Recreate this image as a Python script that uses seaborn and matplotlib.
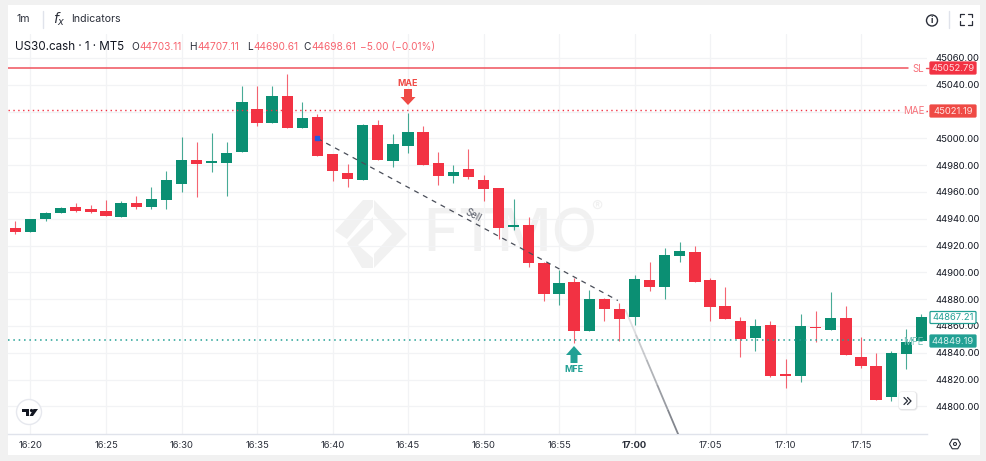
import matplotlib
matplotlib.use("Agg")
import numpy as np
import pandas as pd
import matplotlib.pyplot as plt
from matplotlib.patches import Polygon, FancyBboxPatch, Circle, Rectangle
import seaborn as sns

# minutes after 16:00, first candle is 16:19
first_minute = 19
opens = [44933, 44930, 44940, 44944, 44949, 44947, 44946, 44941, 44952, 44949,
         44954, 44966, 44984, 44982, 44982, 44990, 45022, 45011.5, 45032, 45007.5,
         45016, 44988, 44974, 44969, 45010, 44983, 44994.5, 45005, 44982, 44972,
         44977, 44969, 44963, 44934, 44935, 44907, 44884, 44893, 44856.5, 44880,
         44873, 44866.5, 44894, 44889, 44912, 44915, 44894, 44875, 44864, 44851,
         44861, 44823.5, 44823, 44859.5, 44857, 44866, 44837, 44830, 44807, 44839,
         44849]
highs = [44938, 44940, 44945, 44949, 44952, 44950, 44954, 44953, 44957, 44964,
         44976, 45001, 44997, 45004, 44997, 45039, 45039, 45039, 45048, 45027,
         45018, 44988, 44981, 45011, 45014, 45003, 45019, 45009, 44990, 44980,
         44992, 44973, 44963, 44955, 44941, 44907.5, 44902, 44896, 44887, 44881,
         44877, 44898, 44908, 44918, 44923, 44920, 44896, 44889, 44866.5, 44865,
         44864, 44835, 44869, 44871, 44885, 44875, 44852, 44840, 44841, 44858,
         44869]
lows = [44929, 44930, 44938, 44944, 44945, 44944, 44942, 44941, 44947, 44947.5,
        44947, 44960, 44956, 44975, 44957, 44990, 45009, 45011.5, 45007.5, 45007.5,
        44987, 44968, 44964, 44969, 44984, 44979, 44989, 44980, 44965, 44967,
        44970, 44953, 44925, 44932, 44904, 44879, 44876, 44847, 44856.5, 44864,
        44849, 44861, 44886, 44880, 44908, 44893, 44863.5, 44865, 44837, 44841,
        44822, 44814, 44818, 44848, 44856.8, 44838, 44829, 44805, 44804, 44828,
        44849]
closes = [44930, 44940, 44944, 44948, 44946, 44945, 44942, 44952, 44949, 44955,
          44969, 44984, 44981, 44983, 44989, 45027, 45011.5, 45032, 45007.5, 45015,
          44987, 44976, 44969.5, 45010, 44984, 44996, 45005, 44980, 44972, 44975,
          44971, 44962, 44933, 44935, 44907, 44884, 44892, 44856, 44880, 44873,
          44865.5, 44895, 44889, 44913, 44916, 44893, 44874, 44865, 44850, 44860,
          44823, 44823, 44860, 44858.5, 44866, 44838, 44830, 44805, 44840, 44848,
          44867]

price_ticks = list(range(44800, 45061, 20))
time_ticks = [20, 25, 30, 35, 40, 45, 50, 55, 60, 65, 70, 75]
time_labels = ["16:20", "16:25", "16:30", "16:35", "16:40", "16:45", "16:50",
               "16:55", "17:00", "17:05", "17:10", "17:15"]

sl_price = 45052.79
mae_price = 45021.19
mfe_price = 44849.19
last_price = 44867.21
trade_minutes = [39, 58.9]
trade_prices = [45000, 44879]
exit_minutes = [59.4, 62.9]
exit_prices = [44872, 44779]

GREEN = "#0B8F73"
RED = "#F23243"
TEAL = "#22A094"
MAE_RED = "#EF4A45"
INK = "#2A2E39"

df = pd.DataFrame({"minute": first_minute + np.arange(len(opens)),
                   "open": opens, "high": highs, "low": lows, "close": closes})
df["bottom"] = df[["open", "close"]].min(axis=1)
df["body"] = (df["close"] - df["open"]).abs().clip(lower=1)
df["up"] = df["close"] > df["open"]

sns.set_theme(style="white")
plt.rcParams["font.family"] = ["Inter", "DejaVu Sans"]

W, H = 987, 461
fig = plt.figure(figsize=(W / 100, H / 100), dpi=100, facecolor="#F1F1F1")


def px_axes(z):
    a = fig.add_axes([0, 0, 1, 1], zorder=z)
    a.set_xlim(0, W)
    a.set_ylim(H, 0)
    a.axis("off")
    a.patch.set_alpha(0)
    return a


# white panel + watermark under the chart
bg = px_axes(0)
bg.add_patch(Rectangle((8, 5), 972, 450, fc="white", ec="none"))
wm = "#F1F1F1"
bg.add_patch(Polygon([[335, 231], [363, 200], [373, 200], [373, 207], [347, 239]], fc=wm, ec="none"))
bg.add_patch(Polygon([[347, 243], [373, 217], [373, 230], [358, 245], [373, 258], [373, 268], [362, 268]], fc=wm, ec="none"))
bg.add_patch(Polygon([[374, 200], [407, 234], [374, 268], [374, 254], [392, 234], [374, 214]], fc=wm, ec="none"))
bg.text(423, 236, "FTMO", fontsize=43, fontweight="medium", color=wm, va="center", ha="left")
bg.text(597, 207, "®", fontsize=12, color=wm, va="center", ha="center")

# main chart, pixel box 8..927 x 34..434
ax = fig.add_axes([8 / W, 1 - 434 / H, 919 / W, 400 / H], zorder=1)
ax.patch.set_alpha(0)

for up, color in [(True, GREEN), (False, RED)]:
    part = df[df["up"] == up]
    ax.vlines(part["minute"], part["low"], part["high"], color=color, lw=0.8, alpha=0.75, zorder=3)
    sns.barplot(data=part, x="minute", y="body", bottom=part["bottom"].values, native_scale=True,
                width=0.75, color=color, saturation=1, errorbar=None, ax=ax, zorder=4,
                edgecolor=color, linewidth=0)

ax.set_xlim(18.51, 79.37)
ax.set_ylim(44779.4, 45077.9)
ax.set_xlabel("")
ax.set_ylabel("")
ax.set_xticks(time_ticks)
ax.set_xticklabels(time_labels)
ax.set_yticks(price_ticks)
# 45020 sits right under the MAE price box
ax.set_yticklabels(["" if p == 45020 else f"{p:.2f}" for p in price_ticks])
ax.yaxis.tick_right()
ax.tick_params(axis="y", length=0, pad=5.8, labelsize=6.8, labelcolor="#131722")
ax.tick_params(axis="x", length=0, pad=5, labelsize=6.8, labelcolor=INK)
ax.get_xticklabels()[8].set_fontweight("bold")
ax.grid(True, color="#F2F3F5", lw=0.9)
ax.set_axisbelow(True)
for s in ["top", "left", "right"]:
    ax.spines[s].set_visible(False)
ax.spines["bottom"].set_color("#E0E3EB")
ax.spines["bottom"].set_linewidth(1)

# levels
ax.axhline(sl_price, xmax=0.979, color="#F0525C", lw=1.1, zorder=5)
ax.axhline(mae_price, xmax=0.97, color=RED, lw=1, ls=(0, (1, 2.5)), zorder=5)
ax.axhline(mfe_price, color=TEAL, lw=1.1, ls=(0, (1, 2.5)), zorder=5)

# trade path
sns.lineplot(x=trade_minutes, y=trade_prices, color="#4A4E59", lw=0.9, ls=(0, (4, 4)), ax=ax, zorder=6)
ax.plot(trade_minutes[0], trade_prices[0], "s", ms=3, color="#1F5BE0", zorder=7)
xs = np.linspace(exit_minutes[0], exit_minutes[1], 6)
ys = np.linspace(exit_prices[0], exit_prices[1], 6)
for i in range(5):
    ax.plot(xs[i:i + 2], ys[i:i + 2], color="#6B6F78", lw=1.3, alpha=0.2 + 0.16 * i, zorder=6,
            solid_capstyle="butt")
ax.text(49.3, 44943, "Sell", fontsize=7, color="#555A66", rotation=-28, ha="center", va="center", zorder=7)

# chrome and annotations on top, pixel coordinates
ui = px_axes(5)
# MAE / MFE markers
ui.add_patch(Polygon([[404, 89], [412, 89], [412, 97], [415.5, 97], [408, 105], [400.5, 97], [404, 97]],
                     fc=MAE_RED, ec="none"))
ui.text(408, 83.5, "MAE", fontsize=6.4, fontweight="bold", color=MAE_RED, ha="center", va="center")
ui.add_patch(Polygon([[570.5, 363], [577.5, 363], [577.5, 355], [582, 355], [574, 346], [566, 355], [570.5, 355]],
                     fc=TEAL, ec="none"))
ui.text(574, 369, "MFE", fontsize=6.4, fontweight="bold", color=TEAL, ha="center", va="center")

# line labels
ui.text(918, 68.5, "SL", fontsize=7, color="#F7737C", ha="center", va="center")
ui.plot([926, 930], [68, 68], color="#F0525C", lw=1)
ui.text(914, 111, "MAE", fontsize=7, color="#F7737C", ha="center", va="center")
ui.plot([926, 930], [111, 111], color=RED, lw=1, ls=(0, (1, 2.5)))
ui.text(913, 342, "MFE", fontsize=7, color="#7DC4BC", ha="center", va="center")


def price_box(y, txt, fc, ec, tc):
    ui.add_patch(FancyBboxPatch((930, y - 6), 46, 12, boxstyle="round,pad=0,rounding_size=1",
                                fc=fc, ec=ec, lw=0.9))
    ui.text(953, y + 0.2, txt, fontsize=6.8, color=tc, ha="center", va="center")


price_box(68, f"{sl_price:.2f}", "#F23243", "#F23243", "#FFD9DC")
price_box(111, f"{mae_price:.2f}", "#EF4A45", "#EF4A45", "#FFE3E1")
price_box(317.5, f"{last_price:.2f}", "white", TEAL, TEAL)
price_box(341, f"{mfe_price:.2f}", TEAL, TEAL, "#D9F1EE")

# toolbar
ui.text(16.5, 19.5, "1m", fontsize=7.6, color=INK, ha="left", va="center")
ui.plot([42.5, 42.5], [11, 28], color="#E0E3EB", lw=1)
ui.text(59, 19, "$f_x$", fontsize=10, color=INK, ha="center", va="center")
ui.text(71.5, 19.5, "Indicators", fontsize=7.6, color=INK, ha="left", va="center")
ui.add_patch(Circle((932, 20.5), 5.5, fc="white", ec=INK, lw=1))
ui.text(932, 20.5, "i", fontsize=6.5, fontweight="bold", color=INK, ha="center", va="center")
ui.plot([948.5, 948.5], [11, 28], color="#E0E3EB", lw=1)
for cx, cy, dx, dy in [(960, 14, 1, 1), (971.5, 14, -1, 1), (960, 25, 1, -1), (971.5, 25, -1, -1)]:
    ui.plot([cx + 3.5 * dx, cx, cx], [cy, cy, cy + 3.5 * dy], color=INK, lw=0.9)

# legend row
ui.text(15, 46.5, "US30.cash · 1 · MT5", fontsize=8.4, color="#131722", ha="left", va="center")
legend_red = "#F7636E"
for x, t, c in [(131, "O", INK), (139.5, "44703.11", legend_red), (189, "H", INK), (197, "44707.11", legend_red),
                (247, "L", INK), (253.5, "44690.61", legend_red), (303, "C", INK), (311, "44698.61", legend_red),
                (360.5, "−5.00 (−0.01%)", legend_red)]:
    ui.text(x, 47, t, fontsize=7.3, color=c, ha="left", va="center")

# TV badge
ui.add_patch(Circle((29, 412), 12.5, fc="white", ec="#E6E8EE", lw=1))
ui.add_patch(Polygon([[21.5, 409], [29, 409], [29, 415.5], [25.5, 415.5], [25.5, 412], [21.5, 412]], fc="#131722", ec="none"))
ui.add_patch(Circle((31.5, 410.5), 1.6, fc="#131722", ec="none"))
ui.add_patch(Polygon([[33.5, 409], [38, 409], [33, 416], [29.5, 416]], fc="#131722", ec="none"))

# scroll button
ui.add_patch(FancyBboxPatch((899.5, 392.5), 17, 17, boxstyle="round,pad=0,rounding_size=2.5",
                            fc="#DADADC", ec="#DADADC", lw=1.5, alpha=0.6))
ui.add_patch(FancyBboxPatch((899, 392), 17, 17, boxstyle="round,pad=0,rounding_size=2.5",
                            fc="white", ec="none"))
for dx in (0, 3.5):
    ui.plot([904 + dx, 907.5 + dx, 904 + dx], [397.5, 401, 404.5], color=INK, lw=0.9)

# settings hexagon
ang = np.deg2rad(np.arange(0, 360, 60))
ui.add_patch(Polygon(np.c_[955 + 5.5 * np.cos(ang), 444 + 5.5 * np.sin(ang)], fc="white", ec=INK, lw=0.8))
ui.add_patch(Circle((955, 444), 1.5, fc="white", ec=INK, lw=0.8))

fig.savefig("out.png", dpi=100, facecolor=fig.get_facecolor())
